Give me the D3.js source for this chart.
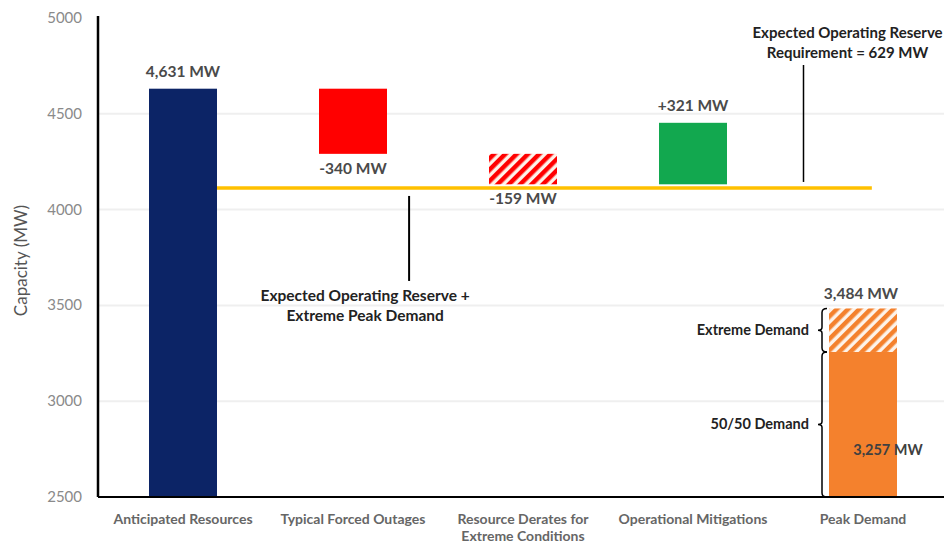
<!DOCTYPE html>
<html>
<head>
    <meta charset="utf-8">
    <script src="https://d3js.org/d3.v7.min.js"></script>
    <style>
        body { margin: 0; background: #fff; }
        svg { font-family: Lato, "Open Sans", sans-serif; }
    </style>
</head>
<body>
<script>
    // chart values
    let categories = ["Anticipated Resources", "Typical Forced Outages", "Resource Derates for|Extreme Conditions", "Operational Mitigations", "Peak Demand"];
    let steps = [4631, -340, -159, 321];
    let stepLabels = ["4,631 MW", "-340 MW", "-159 MW", "+321 MW"];
    let demand50 = 3257;
    let demandExtreme = 3484;
    let reserveReq = 629;
    let yTicks = [2500, 3000, 3500, 4000, 4500, 5000];

    let width = 944, height = 544;
    let mLeft = 98, mRight = 944, mTop = 18, mBottom = 497;

    let svg = d3.select("body").append("svg")
        .attr("width", width)
        .attr("height", height);

    let defs = svg.append("defs");
    function hatch(id, color) {
        let p = defs.append("pattern")
            .attr("id", id)
            .attr("patternUnits", "userSpaceOnUse")
            .attr("width", 8).attr("height", 8)
            .attr("patternTransform", "rotate(45)");
        p.append("rect").attr("width", 8).attr("height", 8).attr("fill", "#fdf3ea");
        p.append("rect").attr("width", 4.5).attr("height", 8).attr("fill", color);
    }
    hatch("hatchRed", "#ff0000");
    hatch("hatchOrange", "#f4812d");

    let x = d3.scaleBand()
        .domain(categories)
        .range([mLeft, 948])
        .paddingInner(0.6)
        .paddingOuter(0.3);

    let y = d3.scaleLinear()
        .domain([2500, 5000])
        .range([mBottom, mTop]);

    // grid
    svg.append("g")
        .selectAll("line")
        .data(yTicks.filter(d => d > 2500 && d < 5000))
        .join("line")
        .attr("x1", mLeft).attr("x2", mRight)
        .attr("y1", d => y(d)).attr("y2", d => y(d))
        .attr("stroke", "#efefef")
        .attr("stroke-width", 2);

    // waterfall blocks
    let blocks = [];
    let run = 0;
    steps.forEach((s, i) => {
        let start = i == 0 ? 2500 : run;
        run = i == 0 ? s : run + s;
        blocks.push({ cat: categories[i], from: start, to: run, label: stepLabels[i], delta: s });
    });
    let fills = ["#0c2466", "#ff0000", "url(#hatchRed)", "#12a84f"];

    svg.append("g")
        .selectAll("rect")
        .data(blocks)
        .join("rect")
        .attr("x", d => x(d.cat))
        .attr("width", x.bandwidth())
        .attr("y", d => y(Math.max(d.from, d.to)))
        .attr("height", d => Math.abs(y(d.from) - y(d.to)))
        .attr("fill", (d, i) => fills[i]);

    svg.append("g")
        .selectAll("text")
        .data(blocks)
        .join("text")
        .attr("x", d => x(d.cat) + x.bandwidth() / 2)
        .attr("y", d => d.delta > 0 ? y(Math.max(d.from, d.to)) - 12 : y(Math.min(d.from, d.to)) + 20)
        .attr("text-anchor", "middle")
        .attr("font-size", 15.5)
        .attr("font-weight", 700)
        .attr("fill", "#4a4a4a")
        .text(d => d.label);

    // peak demand bar
    let pd = categories[4];
    svg.append("rect")
        .attr("x", x(pd)).attr("width", x.bandwidth())
        .attr("y", y(demand50)).attr("height", y(2500) - y(demand50))
        .attr("fill", "#f4812d");
    svg.append("rect")
        .attr("x", x(pd)).attr("width", x.bandwidth())
        .attr("y", y(demandExtreme)).attr("height", y(demand50) - y(demandExtreme))
        .attr("fill", "url(#hatchOrange)");
    svg.append("text")
        .attr("x", x(pd) + x.bandwidth() / 2 - 2).attr("y", y(demandExtreme) - 9)
        .attr("text-anchor", "middle").attr("font-size", 15.5).attr("font-weight", 700)
        .attr("fill", "#4a4a4a")
        .text("3,484 MW");
    svg.append("text")
        .attr("x", x(pd) + x.bandwidth() / 2 + 25).attr("y", y(demand50) + 103)
        .attr("text-anchor", "middle").attr("font-size", 14.5).attr("font-weight", 700)
        .attr("fill", "#404040")
        .text("3,257 MW");

    // braces
    function brace(xb, y1, y2) {
        let ym = (y1 + y2) / 2;
        return `M${xb + 5},${y1} Q${xb},${y1} ${xb},${y1 + 4} L${xb},${ym - 3} Q${xb},${ym} ${xb - 4},${ym}` +
            ` Q${xb},${ym} ${xb},${ym + 3} L${xb},${y2 - 4} Q${xb},${y2} ${xb + 5},${y2}`;
    }
    let bx = x(pd) - 7;
    svg.append("path").attr("d", brace(bx, y(demandExtreme), y(demand50)))
        .attr("fill", "none").attr("stroke", "#000").attr("stroke-width", 1.5);
    svg.append("path").attr("d", brace(bx, y(demand50), y(2500)))
        .attr("fill", "none").attr("stroke", "#000").attr("stroke-width", 1.5);
    svg.append("text")
        .attr("x", bx - 13).attr("y", (y(demandExtreme) + y(demand50)) / 2 + 5)
        .attr("text-anchor", "end").attr("font-size", 14.5).attr("font-weight", 700)
        .attr("fill", "#222").text("Extreme Demand");
    svg.append("text")
        .attr("x", bx - 13).attr("y", (y(demand50) + y(2500)) / 2 + 5)
        .attr("text-anchor", "end").attr("font-size", 14.5).attr("font-weight", 700)
        .attr("fill", "#222").text("50/50 Demand");

    // reserve line
    let reserveLine = demandExtreme + reserveReq;
    svg.append("line")
        .attr("x1", x(categories[0]) + x.bandwidth()).attr("x2", x(pd) + x.bandwidth() * 0.63)
        .attr("y1", y(reserveLine)).attr("y2", y(reserveLine))
        .attr("stroke", "#ffc000").attr("stroke-width", 3.5);

    // callouts
    let cx1 = mLeft + x.step() * 1.83;
    svg.append("line")
        .attr("x1", cx1).attr("x2", cx1)
        .attr("y1", y(reserveLine) + 8).attr("y2", y(reserveLine) + 93)
        .attr("stroke", "#000").attr("stroke-width", 2);
    svg.append("text")
        .attr("x", cx1 - 44).attr("y", y(reserveLine) + 113)
        .attr("text-anchor", "middle").attr("font-size", 15.5).attr("font-weight", 700)
        .attr("fill", "#222")
        .selectAll("tspan")
        .data(["Expected Operating Reserve +", "Extreme Peak Demand"])
        .join("tspan")
        .attr("x", cx1 - 44)
        .attr("dy", (d, i) => i ? 20 : 0)
        .text(d => d);

    let cx2 = mLeft + x.step() * 4.15;
    svg.append("line")
        .attr("x1", cx2).attr("x2", cx2)
        .attr("y1", y(reserveLine) - 6).attr("y2", 65)
        .attr("stroke", "#000").attr("stroke-width", 1.5);
    svg.append("text")
        .attr("x", cx2 + 44).attr("y", 38)
        .attr("text-anchor", "middle").attr("font-size", 15).attr("font-weight", 700)
        .attr("fill", "#222")
        .selectAll("tspan")
        .data(["Expected Operating Reserve", "Requirement = " + reserveReq + " MW"])
        .join("tspan")
        .attr("x", cx2 + 44)
        .attr("dy", (d, i) => i ? 20 : 0)
        .text(d => d);

    // axes
    svg.append("line")
        .attr("x1", mLeft).attr("x2", mLeft).attr("y1", mTop - 2).attr("y2", mBottom)
        .attr("stroke", "#000").attr("stroke-width", 2.5);
    svg.append("line")
        .attr("x1", mLeft).attr("x2", mRight).attr("y1", mBottom).attr("y2", mBottom)
        .attr("stroke", "#000").attr("stroke-width", 2);

    svg.append("g")
        .selectAll("text")
        .data(yTicks)
        .join("text")
        .attr("x", 82).attr("y", d => y(d) + 5)
        .attr("text-anchor", "end")
        .attr("font-size", 15)
        .attr("fill", "#8a8a8a")
        .text(d => d);

    svg.append("text")
        .attr("transform", `translate(27,${(mTop + mBottom) / 2 + 3}) rotate(-90)`)
        .attr("text-anchor", "middle")
        .attr("font-size", 17)
        .attr("fill", "#555")
        .text("Capacity (MW)");

    svg.append("g")
        .selectAll("text")
        .data(categories)
        .join("text")
        .attr("text-anchor", "middle")
        .attr("font-size", 14)
        .attr("font-weight", 700)
        .attr("fill", "#666")
        .each(function (d) {
            let t = d3.select(this);
            d.split("|").forEach((line, i) => {
                t.append("tspan")
                    .attr("x", x(d) + x.bandwidth() / 2)
                    .attr("y", 524 + i * 17)
                    .text(line);
            });
        });
</script>
</body>
</html>
